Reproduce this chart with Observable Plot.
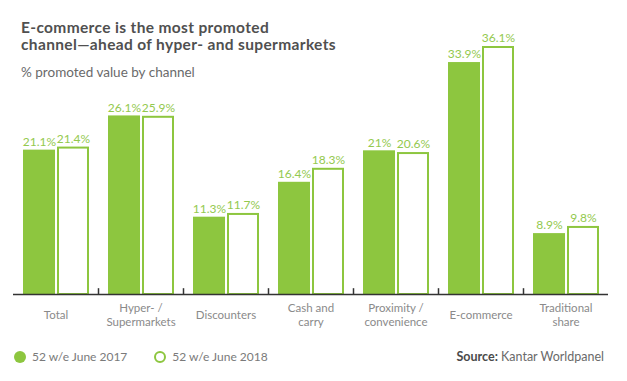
<!DOCTYPE html>
<html><head><meta charset="utf-8">
<script src="https://cdn.jsdelivr.net/npm/d3@7"></script>
<script src="https://cdn.jsdelivr.net/npm/@observablehq/plot@0.6"></script>
<style>
body{margin:0;background:#fff;font-family:Lato,"Open Sans",sans-serif;}
#wrap{position:relative;width:627px;height:381px;overflow:hidden;}
#chart{position:absolute;left:0;top:0;}
.title{position:absolute;left:21px;top:19px;font-size:15.5px;font-weight:bold;color:#505050;line-height:17px;letter-spacing:0.35px;}
.sub{position:absolute;left:21px;top:64px;font-size:13.5px;color:#6a6a6a;}
.legend{position:absolute;left:14px;top:349px;font-size:12px;color:#7a7a7a;display:flex;align-items:center;}
.dot{display:inline-block;width:12px;height:12px;border-radius:50%;box-sizing:border-box;margin-right:6px;}
.item{display:flex;align-items:center;margin-right:22px;}
.source{position:absolute;right:23px;top:349px;font-size:12.5px;color:#6a6a6a;}
.source b{color:#4a4a4a;}
</style></head><body>
<div id="wrap">
<div id="chart"></div>
<div class="title">E-commerce is the most promoted<br>channel—ahead of hyper- and supermarkets</div>
<div class="sub">% promoted value by channel</div>
<div class="legend"><span class="item"><span class="dot" style="background:#8dc63f"></span>52 w/e June 2017</span><span class="item" style="margin-left:5px"><span class="dot" style="border:2px solid #8dc63f;background:#fff"></span>52 w/e June 2018</span></div>
<div class="source"><b>Source:</b> Kantar Worldpanel</div>
</div>
<script>
const categories = ["Total","Hyper- / Supermarkets","Discounters","Cash and carry","Proximity / convenience","E-commerce","Traditional share"];
const axisLabels = ["Total","Hyper- /\nSupermarkets","Discounters","Cash and\ncarry","Proximity /\nconvenience","E-commerce","Traditional\nshare"];
const values2017 = [21.1, 26.1, 11.3, 16.4, 21.0, 33.9, 8.9];
const values2018 = [21.4, 25.9, 11.7, 18.3, 20.6, 36.1, 9.8];
const labels2017 = ["21.1%","26.1%","11.3%","16.4%","21%","33.9%","8.9%"];
const labels2018 = ["21.4%","25.9%","11.7%","18.3%","20.6%","36.1%","9.8%"];

const green = "#8dc63f";
const d17 = categories.map((c,i)=>({channel:c, value:values2017[i], label:labels2017[i]}));
const d18 = categories.map((c,i)=>({channel:c, value:values2018[i], label:labels2018[i]}));
const lab = categories.map((c,i)=>({channel:c, text:axisLabels[i]}));

const chart = Plot.plot({
  width: 627, height: 381,
  marginTop: 47, marginBottom: 87, marginLeft: 13, marginRight: 19,
  style: {background: "transparent", fontFamily: "Lato, sans-serif"},
  x: {domain: categories, padding: 0, axis: null},
  y: {domain: [0, 36.1], axis: null},
  marks: [
    Plot.barY(d17, {x: "channel", y: "value", fill: green, insetLeft: 10, insetRight: 43}),
    Plot.barY(d18, {x: "channel", y: "value", fill: "white", stroke: green, strokeWidth: 2, insetLeft: 45, insetRight: 10}),
    Plot.text(d17, {x: "channel", y: "value", text: "label", dx: -16.5, dy: -8, fill: "#93c94e", fontSize: 12}),
    Plot.text(d18, {x: "channel", y: "value", text: "label", dx: 17.5, dy: -9, fill: "#93c94e", fontSize: 12}),
    Plot.ruleY([0], {stroke: "#333", strokeWidth: 1.5}),
    Plot.ruleX(categories.slice(1), {x: d => d, dx: -42.5, y1: 0, y2: 0.85, stroke: "#333", strokeWidth: 1.5}),
    Plot.text(lab, {x: "channel", y: 0, text: "text", dy: 20, lineAnchor: "middle", lineHeight: 1.2, fill: "#8a8a8a", fontSize: 11.5})
  ]
});
document.getElementById("chart").appendChild(chart);
</script>
</body></html>
